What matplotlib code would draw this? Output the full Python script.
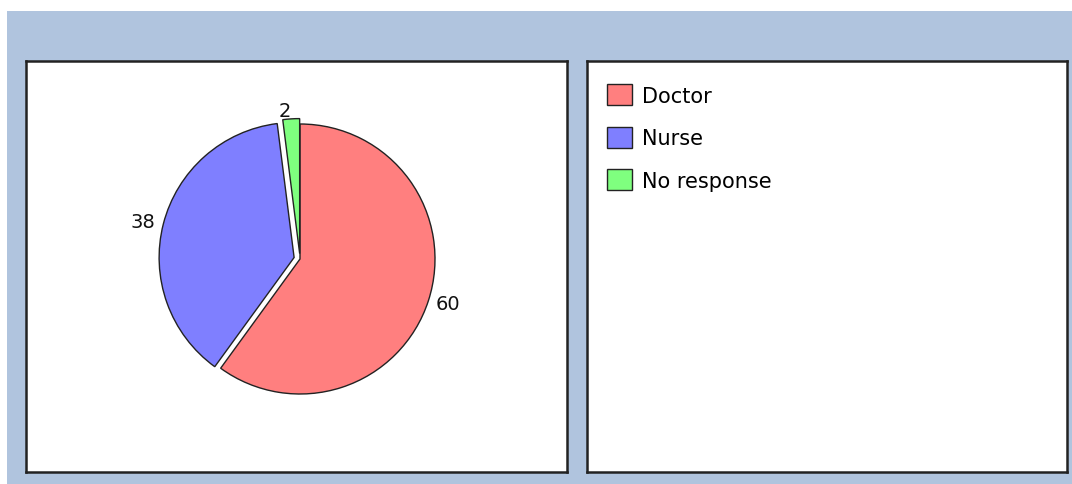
import matplotlib.pyplot as plt
from matplotlib.patches import Rectangle

# data
categories = ['Doctor', 'Nurse', 'No response']
values = [60, 38, 2]
colors = ['#FF7F7F', '#7F7FFF', '#7FFF7F']

plt.rcParams['font.family'] = 'DejaVu Sans'

W, H = 1072, 485
fig = plt.figure(figsize=(W / 100, H / 100), dpi=100, facecolor='white')

# blue background
fig.patches.append(Rectangle((7 / W, 0), 1, (H - 12) / H, transform=fig.transFigure,
                             facecolor='#B0C4DE', edgecolor='none', zorder=-10))

def panel(x0, x1, y0, y1):
    ax = fig.add_axes([x0 / W, (H - y1) / H, (x1 - x0) / W, (y1 - y0) / H])
    ax.set_facecolor('white')
    for s in ax.spines.values():
        s.set_color('#222222')
        s.set_linewidth(1.8)
    ax.set_xticks([])
    ax.set_yticks([])
    return ax

ax = panel(26, 567, 62, 473)
ax2 = panel(587, 1067, 62, 473)

wedges, texts = ax.pie(values, labels=[str(v) for v in values], colors=colors,
                       startangle=90, counterclock=False,
                       explode=[0, 0.045, 0.04], labeldistance=1.06,
                       wedgeprops=dict(edgecolor='#222222', linewidth=1.0),
                       textprops=dict(fontsize=14, color='#111111'))
ax.set_frame_on(True)
ax.set_aspect('auto')
# 1 unit = 135 px, pie centre at (300, 260)
r = 135.0
ax.set_xlim(-(300 - 26) / r, (567 - 300) / r)
ax.set_ylim(-(473 - 260) / r, (260 - 62) / r)

ax2.legend(wedges, categories, loc='upper left',
           bbox_to_anchor=((607 - 587) / 480, (473 - 85) / 411),
           frameon=False, borderpad=0, borderaxespad=0,
           handlelength=1.2, handleheight=1.2, handletextpad=0.5,
           labelspacing=1.0, fontsize=15)

fig.savefig('out.png', dpi=100, facecolor='white')
